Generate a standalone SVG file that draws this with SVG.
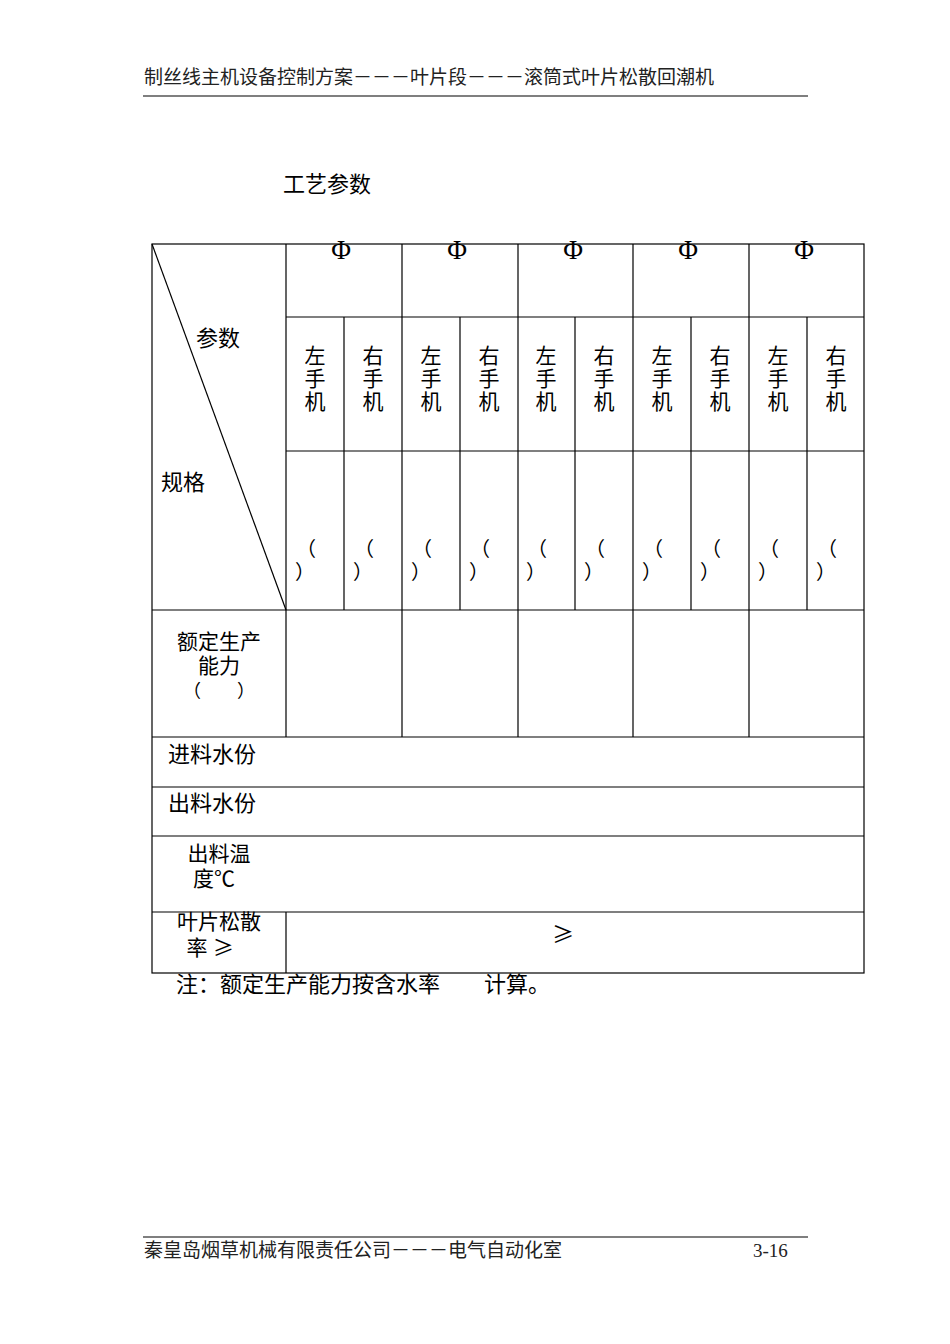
<svg xmlns="http://www.w3.org/2000/svg" width="950" height="1344" viewBox="0 0 950 1344">
<style>
text{font-family:"Liberation Serif","Noto Sans CJK SC",serif;fill:#000}
.t{font-size:22px}
.m{font-size:21px}
.h{font-size:19px;fill:#222}
.f{font-size:19px;fill:#222}
.cj{font-family:"Noto Sans CJK SC",sans-serif}
.phi{font-family:"Liberation Sans",sans-serif;font-size:27px}
line,path{stroke:#000;stroke-width:1.2;fill:none}
</style>
<rect width="950" height="1344" fill="#fff"/>
<g id="header">
<text class="h" x="144" y="84">制丝线主机设备控制方案－－－叶片段－－－滚筒式叶片松散回潮机</text>
<line x1="143" y1="96" x2="808" y2="96"/>
</g>
<g id="title"><text class="t" x="283" y="192" font-size="23">工艺参数</text></g>
<g id="table">
<rect x="152" y="244" width="712" height="729" fill="none" stroke="#000" stroke-width="1.2"/>
<path d="M152,244 L286,610"/>
<path d="M286,244 V737 M402,244 V737 M518,244 V737 M633,244 V737 M749,244 V737"/>
<path d="M344,317 V610 M460,317 V610 M575,317 V610 M691,317 V610 M807,317 V610"/>
<path d="M286,317 H864 M286,451 H864 M152,610 H864 M152,737 H864 M152,787 H864 M152,836 H864 M152,912 H864 M286,912 V973"/>
<g class="t">
<text x="196" y="346">参数</text>
<text x="161" y="490">规格</text>
</g>
<g class="phi" text-anchor="middle">
<text x="341" y="259">Φ</text><text x="457" y="259">Φ</text><text x="573" y="259">Φ</text><text x="688" y="259">Φ</text><text x="804" y="259">Φ</text>
</g>
<g class="m" text-anchor="middle">
<text x="315" y="363">左</text><text x="315" y="386">手</text><text x="315" y="409">机</text>
<text x="373" y="363">右</text><text x="373" y="386">手</text><text x="373" y="409">机</text>
<text x="431" y="363">左</text><text x="431" y="386">手</text><text x="431" y="409">机</text>
<text x="489" y="363">右</text><text x="489" y="386">手</text><text x="489" y="409">机</text>
<text x="546" y="363">左</text><text x="546" y="386">手</text><text x="546" y="409">机</text>
<text x="604" y="363">右</text><text x="604" y="386">手</text><text x="604" y="409">机</text>
<text x="662" y="363">左</text><text x="662" y="386">手</text><text x="662" y="409">机</text>
<text x="720" y="363">右</text><text x="720" y="386">手</text><text x="720" y="409">机</text>
<text x="778" y="363">左</text><text x="778" y="386">手</text><text x="778" y="409">机</text>
<text x="836" y="363">右</text><text x="836" y="386">手</text><text x="836" y="409">机</text>
</g>
<g class="cj" font-size="20">
<text x="296" y="556">（</text><text x="295" y="579">）</text>
<text x="354" y="556">（</text><text x="353" y="579">）</text>
<text x="412" y="556">（</text><text x="411" y="579">）</text>
<text x="470" y="556">（</text><text x="469" y="579">）</text>
<text x="527" y="556">（</text><text x="526" y="579">）</text>
<text x="585" y="556">（</text><text x="584" y="579">）</text>
<text x="643" y="556">（</text><text x="642" y="579">）</text>
<text x="701" y="556">（</text><text x="700" y="579">）</text>
<text x="759" y="556">（</text><text x="758" y="579">）</text>
<text x="817" y="556">（</text><text x="816" y="579">）</text>
</g>
<g class="t" text-anchor="middle">
<text x="219" y="649" class="m">额定生产</text>
<text x="219" y="673" class="m">能力</text>
<text x="219" y="697" class="cj" font-size="18">（　　）</text>
<text x="212" y="762">进料水份</text>
<text x="212" y="811">出料水份</text>
<text x="219" y="861" class="m">出料温</text>
<text x="214" y="886" class="m">度<tspan class="cj">℃</tspan></text>
<text x="219" y="929" class="m">叶片松散</text>
<text x="210" y="955" class="m">率 <tspan class="cj">≥</tspan></text>
<text x="563" y="942" class="cj">≥</text>
</g>
</g>
<g id="note"><text class="t" x="176" y="992" font-size="23">注：额定生产能力按含水率　　计算。</text></g>
<g id="footer">
<line x1="143" y1="1237" x2="808" y2="1237"/>
<text class="f" x="144" y="1257">秦皇岛烟草机械有限责任公司－－－电气自动化室</text>
<text class="f" x="753" y="1257">3-16</text>
</g>
</svg>
